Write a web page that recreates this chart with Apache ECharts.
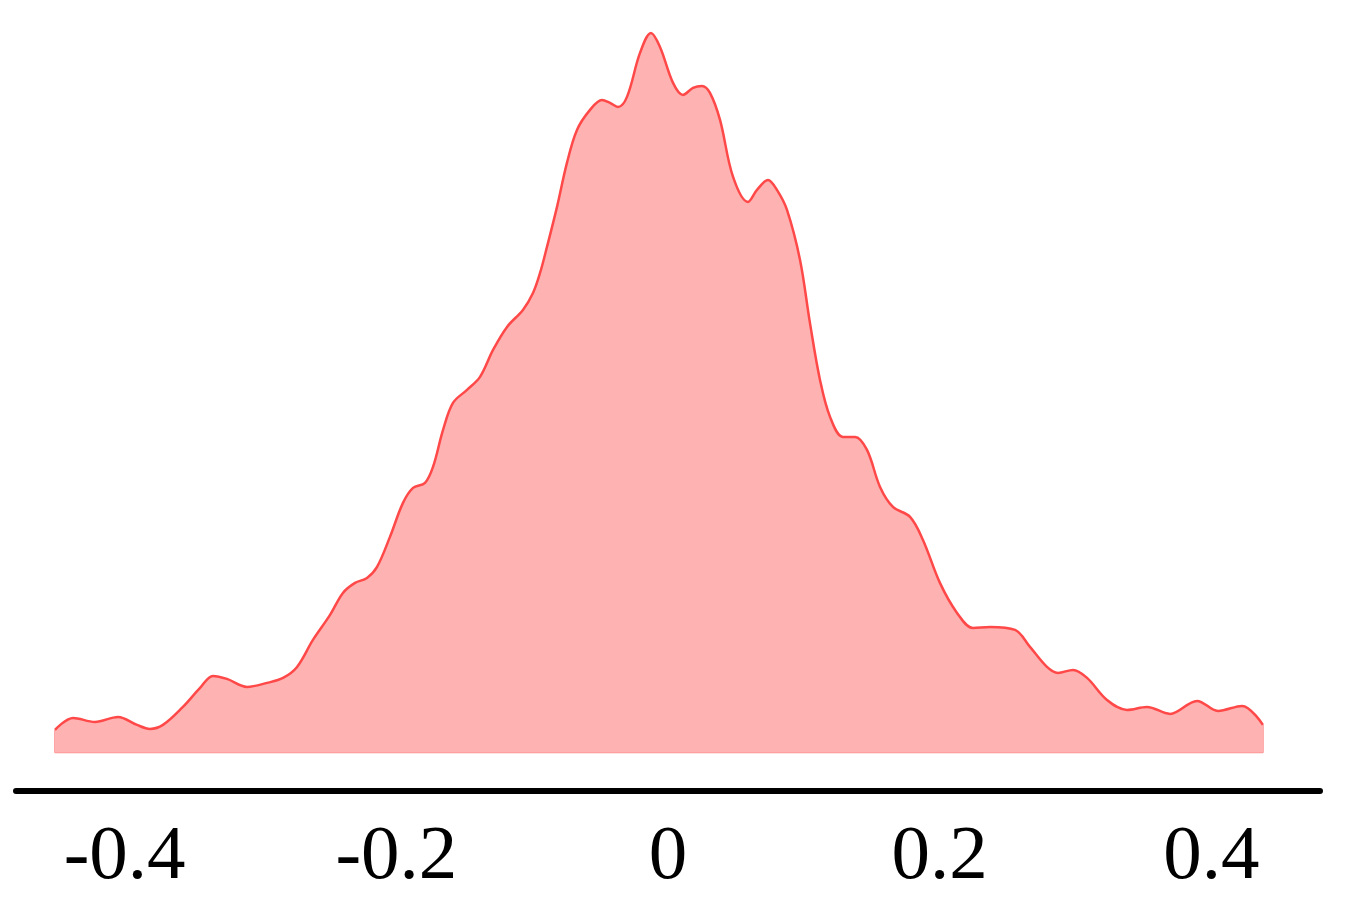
<!DOCTYPE html>
<html>
<head>
<meta charset="utf-8">
<script src="https://cdn.jsdelivr.net/npm/echarts@6/dist/echarts.min.js"></script>
<style>
html,body{margin:0;padding:0;background:#fff;}
#chart{width:1345px;height:912px;}
</style>
</head>
<body>
<div id="chart"></div>
<script>
// Density estimate: x positions and density values
const xValues = [-0.4513,-0.4380,-0.4219,-0.4049,-0.3909,-0.3814,-0.3718,-0.3571,-0.3445,-0.3350,
  -0.3247,-0.3099,-0.2952,-0.2834,-0.2731,-0.2614,-0.2488,-0.2393,-0.2304,-0.2216,
  -0.2142,-0.2047,-0.1951,-0.1877,-0.1789,-0.1730,-0.1656,-0.1583,-0.1480,-0.1384,
  -0.1288,-0.1185,-0.1068,-0.0994,-0.0942,-0.0891,-0.0817,-0.0744,-0.0670,-0.0574,
  -0.0486,-0.0427,-0.0368,-0.0302,-0.0206,-0.0125,-0.0059,0.0037,0.0110,0.0184,
  0.0250,0.0309,0.0383,0.0479,0.0589,0.0655,0.0736,0.0802,0.0876,0.0972,
  0.1045,0.1119,0.1193,0.1288,0.1377,0.1465,0.1561,0.1656,0.1782,0.1877,
  0.2002,0.2128,0.2245,0.2371,0.2555,0.2665,0.2790,0.2871,0.2982,0.3085,
  0.3232,0.3379,0.3526,0.3696,0.3895,0.4049,0.4226,0.4380];
const densityValues = [0.113,0.173,0.153,0.178,0.138,0.118,0.138,0.228,0.323,0.383,
  0.368,0.328,0.348,0.373,0.428,0.563,0.688,0.798,0.848,0.873,
  0.928,1.078,1.248,1.323,1.348,1.428,1.613,1.748,1.813,1.878,
  2.013,2.128,2.213,2.298,2.398,2.528,2.728,2.948,3.113,3.213,
  3.263,3.248,3.228,3.278,3.498,3.598,3.528,3.348,3.288,3.323,
  3.333,3.298,3.163,2.878,2.753,2.813,2.863,2.813,2.713,2.463,
  2.148,1.863,1.678,1.578,1.578,1.513,1.328,1.228,1.178,1.063,
  0.848,0.698,0.623,0.628,0.613,0.528,0.428,0.398,0.413,0.373,
  0.263,0.213,0.228,0.193,0.258,0.208,0.233,0.138];
const tickValues = [-0.4,-0.2,0,0.2,0.4];

const curve = xValues.map((x,i)=>[x, densityValues[i]]);
const n = xValues.length;
const outline = [
  [xValues[0], densityValues[0]],
  [xValues[0], 0],
  [xValues[n-1], 0],
  [xValues[n-1], densityValues[n-1]]
];

const chart = echarts.init(document.getElementById('chart'), null, {renderer:'canvas'});
chart.setOption({
  backgroundColor:'#ffffff',
  animation:false,
  grid:{left:16, right:25, top:0, bottom:121, containLabel:false, outerBoundsMode:'none'},
  xAxis:{
    type:'value',
    min:-0.48, max:0.48,
    axisLine:{show:true, onZero:false, lineStyle:{color:'#000', width:6}},
    axisTick:{show:false},
    splitLine:{show:false},
    axisLabel:{
      show:true,
      margin:28,
      fontFamily:'"Liberation Serif", "DejaVu Serif", serif',
      fontSize:77,
      color:'#000',
      customValues: tickValues,
      formatter: v => (Math.abs(v)<1e-9 ? '0' : String(v))
    }
  },
  yAxis:{
    type:'value',
    min:-0.1925, max:3.7625,
    show:false,
    splitLine:{show:false}
  },
  series:[
    {
      type:'line',
      data: outline,
      symbol:'none',
      smooth:false,
      lineStyle:{color:'#ff8c8c', width:1.5},
      z:2,
      silent:true
    },
    {
      type:'line',
      data: curve,
      symbol:'none',
      smooth:0.35,
      lineStyle:{color:'#ff4848', width:2.5},
      areaStyle:{color:'#ffb2b2', opacity:1, origin:'auto'},
      z:3
    }
  ]
});
</script>
</body>
</html>
